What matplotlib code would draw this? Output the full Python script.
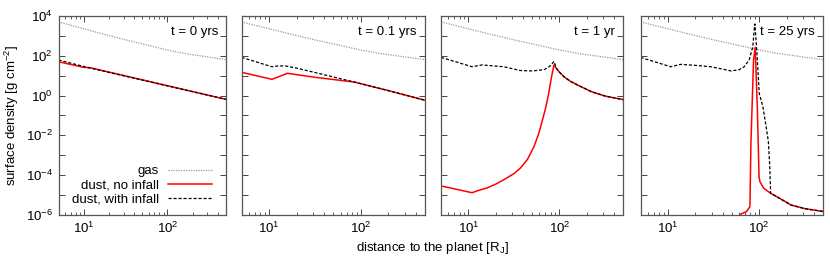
import numpy as np
import matplotlib
matplotlib.use('Agg')
import matplotlib.pyplot as plt
from matplotlib.ticker import LogLocator, NullLocator, FixedLocator, FuncFormatter

plt.rcParams['font.family'] = ['Liberation Sans', 'DejaVu Sans']
plt.rcParams['mathtext.fontset'] = 'custom'
plt.rcParams['mathtext.rm'] = 'Liberation Sans'
plt.rcParams['mathtext.it'] = 'Liberation Sans:italic'
plt.rcParams['font.size'] = 9.5

# values, as log10 of distance [R_J] and log10 of surface density [g cm^-2]
panel_titles = ['t = 0 yrs', 't = 0.1 yrs', 't = 1 yr', 't = 25 yrs']

gas_logx = [0.7, 1.0, 1.2, 1.5, 1.7, 2.0, 2.2, 2.5, 2.7]
gas_logy = [3.70, 3.36, 3.13, 2.80, 2.60, 2.29, 2.12, 1.93, 1.81]

# t = 0
red0_logx = [0.7, 1.0, 1.08, 2.7]
red0_logy = [1.70, 1.42, 1.40, -0.19]
blk0_logx = [0.7, 1.05, 2.7]
blk0_logy = [1.79, 1.41, -0.19]

# t = 0.1 yr
red1_logx = [0.7, 1.03, 1.2, 1.5, 1.93, 2.3, 2.72]
red1_logy = [1.17, 0.82, 1.12, 0.92, 0.68, 0.25, -0.26]
blk1_logx = [0.7, 1.03, 1.1, 1.18, 1.3, 1.6, 1.93, 2.3, 2.72]
blk1_logy = [1.92, 1.45, 1.49, 1.49, 1.38, 1.05, 0.68, 0.25, -0.26]

# t = 1 yr
tail2_logx = [1.97, 2.0, 2.05, 2.12, 2.2, 2.35, 2.5, 2.72]
tail2_logy = [1.35, 1.18, 0.95, 0.72, 0.53, 0.20, -0.02, -0.22]
red2_logx = [0.7, 1.04, 1.1, 1.2, 1.3, 1.4, 1.5, 1.57, 1.65, 1.72, 1.77, 1.81, 1.85, 1.88, 1.91, 1.94] + tail2_logx
red2_logy = [-4.54, -4.88, -4.78, -4.65, -4.45, -4.2, -3.92, -3.65, -3.2, -2.57, -1.95, -1.3, -0.6, 0.05, 0.85, 1.54] + tail2_logy
blk2_logx = [0.7, 1.04, 1.15, 1.39, 1.57, 1.7, 1.83, 1.88, 1.91, 1.94] + tail2_logx
blk2_logy = [1.92, 1.45, 1.54, 1.45, 1.26, 1.24, 1.30, 1.42, 1.55, 1.72] + tail2_logy

# t = 25 yrs
tail3_logx = [2.125, 2.2, 2.35, 2.5, 2.71]
tail3_logy = [-4.91, -5.1, -5.5, -5.68, -5.83]
red3_logx = [1.74, 1.80, 1.86, 1.898, 1.909, 1.938, 1.956, 1.98, 1.998, 2.008, 2.05] + tail3_logx
red3_logy = [-6.3, -5.95, -5.83, -5.58, -2.4, 1.79, 2.43, -0.72, -4.08, -4.33, -4.66] + tail3_logy
blk3_logx = [0.7, 1.03, 1.14, 1.3, 1.47, 1.6, 1.69, 1.78, 1.835, 1.89, 1.93, 1.945, 1.953,
             1.975, 2.0, 2.04, 2.07, 2.1, 2.115] + tail3_logx
blk3_logy = [1.92, 1.45, 1.57, 1.52, 1.45, 1.33, 1.24, 1.30, 1.45, 1.79, 2.46, 3.30, 3.60,
             2.13, 0.12, -0.56, -1.39, -2.3, -3.5] + tail3_logy

red_series = [(red0_logx, red0_logy), (red1_logx, red1_logy), (red2_logx, red2_logy), (red3_logx, red3_logy)]
blk_series = [(blk0_logx, blk0_logy), (blk1_logx, blk1_logy), (blk2_logx, blk2_logy), (blk3_logx, blk3_logy)]

W, H = 830, 260
fig = plt.figure(figsize=(W / 100, H / 100), dpi=100)
lefts = [58.5, 241.5, 441, 640.5]
widths = [167.5, 183.5, 182, 182.5]
top, bottom = 16, 215

y_decades = list(range(-6, 5))

for i in range(4):
    ax = fig.add_axes([lefts[i] / W, 1 - bottom / H, widths[i] / W, (bottom - top) / H])
    ax.plot(10 ** np.array(gas_logx), 10 ** np.array(gas_logy), color='#9a9a9a', lw=0.9,
            ls=(0, (1, 1)), label='gas')
    rx, ry = red_series[i]
    ax.plot(10 ** np.array(rx), 10 ** np.array(ry), color='#ff0000', lw=1.1, label='dust, no infall')
    bx, by = blk_series[i]
    ax.plot(10 ** np.array(bx), 10 ** np.array(by), color='black', lw=0.9, ls=(0, (2.5, 1.5)),
            label='dust, with infall')
    ax.set_xscale('log')
    ax.set_yscale('log')
    ax.set_xlim(5, 500)
    ax.set_ylim(1e-6, 1e4)
    ax.yaxis.set_major_locator(FixedLocator([10.0 ** k for k in y_decades]))
    ax.yaxis.set_minor_locator(NullLocator())
    ax.xaxis.set_minor_locator(LogLocator(base=10, subs=np.arange(2, 10), numticks=20))
    if i == 0:
        ax.yaxis.set_major_formatter(FuncFormatter(
            lambda v, p: r'$10^{%d}$' % round(np.log10(v)) if round(np.log10(v)) % 2 == 0 else ''))
    else:
        ax.set_yticklabels([])
    ax.tick_params(which='both', direction='in', top=True, right=True, color='#444444')
    ax.tick_params(which='major', length=4.5, width=0.7, labelsize=9.5, pad=4)
    ax.tick_params(which='minor', length=2.5, width=0.6)
    for sp in ax.spines.values():
        sp.set_color('#555555')
        sp.set_linewidth(0.9)
    ax.text(0.955, 0.92, panel_titles[i], transform=ax.transAxes, ha='right', va='center')
    if i == 0:
        leg = ax.legend(loc='lower right', frameon=False, markerfirst=False, handlelength=3.3,
                        handletextpad=0.7, labelspacing=0.15, borderaxespad=0.3,
                        bbox_to_anchor=(0.97, 0.0))
        for col in leg._legend_handle_box.get_children():
            col.align = 'right'

fig.text(12 / W, 1 - 115.5 / H, r'surface density [g cm$^{-2}$]', rotation=90, ha='center', va='center')
fig.text(432 / W, 1 - 248 / H, r'distance to the planet [R$_\mathrm{J}$]', ha='center', va='center')

fig.savefig('out.png', dpi=100)
